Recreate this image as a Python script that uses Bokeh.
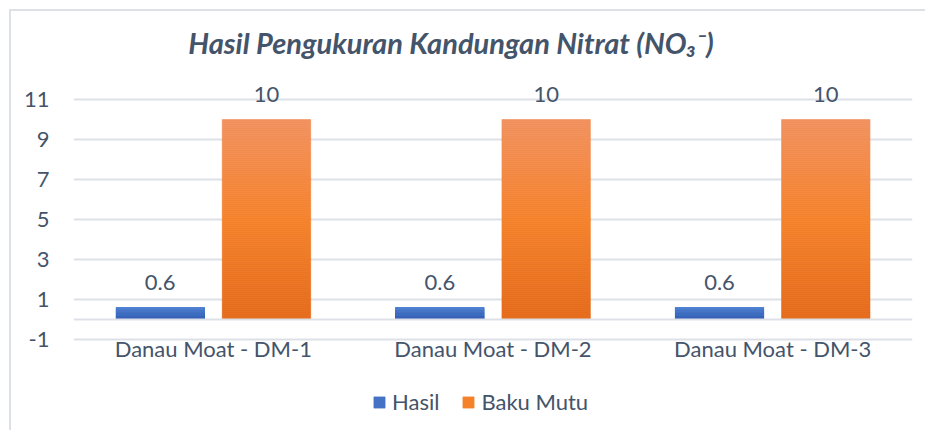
from bokeh.plotting import figure
from bokeh.models import (ColumnDataSource, FactorRange, FixedTicker, LabelSet,
                          Legend, LegendItem, Span)
from bokeh.core.properties import value
from bokeh.transform import dodge
from bokeh.embed import file_html
from bokeh.resources import INLINE

# ---- data ----
categories = ["Danau Moat - DM-1", "Danau Moat - DM-2", "Danau Moat - DM-3"]
hasil = [0.6, 0.6, 0.6]
baku_mutu = [10, 10, 10]
series_names = ["Hasil", "Baku Mutu"]
y_ticks = [-1, 1, 3, 5, 7, 9, 11]
title_text = "Hasil Pengukuran Kandungan Nitrat (NO\u2083\u207b)"

FONT = "Lato"
TEXT = "#44546A"
GRID = "#DDE1E7"
FRAME = "#DCE1E8"

# gradient stops (top, middle, bottom)
blue_stops = [(0.0, (0x58, 0x88, 0xD8)), (0.5, (0x44, 0x72, 0xC4)), (1.0, (0x38, 0x63, 0xBA))]
orange_stops = [(0.0, (0xF1, 0x90, 0x5E)), (0.5, (0xF5, 0x81, 0x2A)), (1.0, (0xE4, 0x69, 0x19))]


def interp(stops, t):
    for (t0, c0), (t1, c1) in zip(stops[:-1], stops[1:]):
        if t0 <= t <= t1:
            f = (t - t0) / (t1 - t0)
            return "#%02x%02x%02x" % tuple(int(round(a + (b - a) * f)) for a, b in zip(c0, c1))
    return "#%02x%02x%02x" % stops[-1][1]


p = figure(x_range=FactorRange(*categories), y_range=(-5.45, 15.2),
           width=916, height=421, output_backend="svg", toolbar_location=None,
           min_border_left=62, min_border_right=15, min_border_top=4, min_border_bottom=4,
           styles={"margin-left": "9px", "margin-top": "9px",
                   "border-top": "2px solid " + FRAME, "border-left": "2px solid " + FRAME})
p.outline_line_color = None
p.background_fill_color = "white"
p.border_fill_color = "white"
p.xaxis.visible = False

p.xgrid.grid_line_color = None
p.ygrid.grid_line_color = GRID
p.ygrid.grid_line_width = 2
p.ygrid.ticker = FixedTicker(ticks=y_ticks)
p.yaxis.ticker = FixedTicker(ticks=y_ticks)
p.yaxis.major_label_overrides = {t: str(t) for t in y_ticks}
p.yaxis.axis_line_color = None
p.yaxis.major_tick_line_color = None
p.yaxis.minor_tick_line_color = None
p.yaxis.major_label_text_font = FONT
p.yaxis.major_label_text_font_size = "22px"
p.yaxis.major_label_text_color = TEXT
p.yaxis.major_label_standoff = 18

p.add_layout(Span(location=0, dimension="width", line_color=GRID, line_width=2))

N = 100
width = 0.316
offset = 0.19
legend_items = []
for vals, stops, off, name in [(hasil, blue_stops, -offset, series_names[0]),
                               (baku_mutu, orange_stops, offset, series_names[1])]:
    mid_r = None
    for i in range(N):
        t = (i + 0.5) / N  # 0 = top, 1 = bottom
        col = interp(stops, t)
        src = ColumnDataSource(dict(
            cat=categories,
            top=[v * (1 - i / N) for v in vals],
            bottom=[v * (1 - (i + 1) / N) for v in vals],
        ))
        r = p.vbar(x=dodge("cat", off, range=p.x_range), top="top", bottom="bottom",
                   width=width, source=src, fill_color=col, line_color=col, line_width=0.6)
        if i == N // 2:
            mid_r = r
    legend_items.append(LegendItem(label=name, renderers=[mid_r]))
    lsrc = ColumnDataSource(dict(cat=categories, v=vals, label=[("%g" % v) for v in vals]))
    p.add_layout(LabelSet(x=dodge("cat", off, range=p.x_range), y="v", text="label",
                          source=lsrc, y_offset=18, text_align="center",
                          text_baseline="bottom", text_font=value(FONT),
                          text_font_size=value("22px"), text_color=TEXT))

# category labels along the bottom of the plotting area
csrc = ColumnDataSource(dict(cat=categories, y=[y_ticks[0]] * len(categories)))
p.text(x="cat", y="y", text="cat", source=csrc, y_offset=-5,
       text_font=value(FONT), text_font_size="22px", text_color=TEXT,
       text_align="center", text_baseline="top")

# chart title
tsrc = ColumnDataSource(dict(x=[categories[1]], y=[13.85], t=[title_text]))
p.text(x=dodge("x", -0.15, range=p.x_range), y="y", text="t", source=tsrc,
       text_font=value(FONT), text_font_style="bold italic", text_font_size="29px",
       text_color=TEXT, text_align="center", text_baseline="middle")

legend = Legend(items=legend_items, orientation="horizontal", location=(299, 13),
                label_text_font=FONT, label_text_font_size="22px", label_text_color=TEXT,
                glyph_width=14, glyph_height=14, label_standoff=6, spacing=22,
                padding=0, margin=0, border_line_color=None, background_fill_alpha=0)
p.add_layout(legend, "center")

open("out.html", "w").write(file_html(p, INLINE))
